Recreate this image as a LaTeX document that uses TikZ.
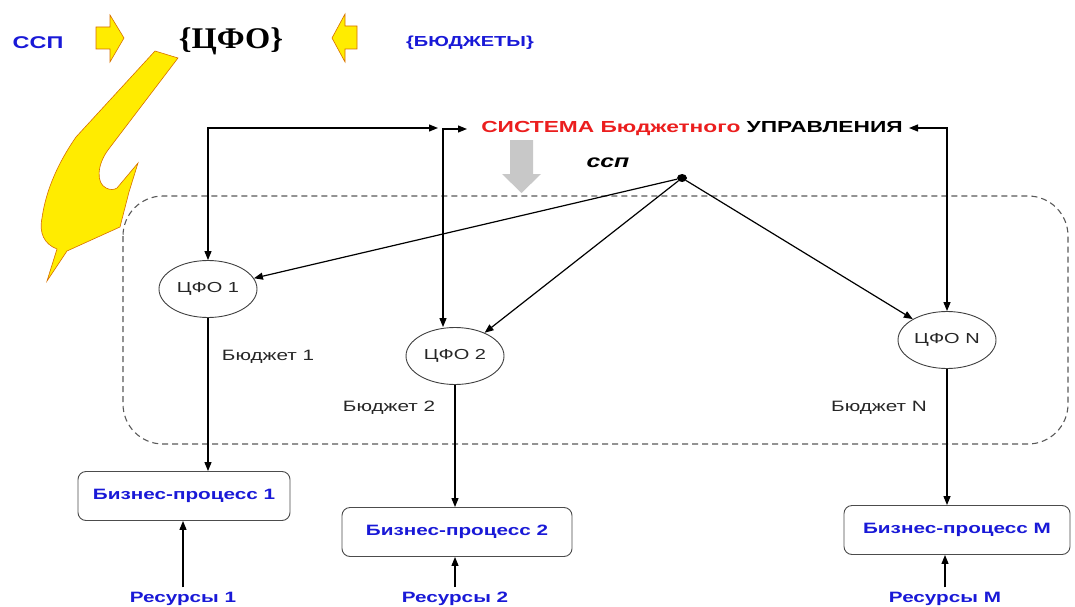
\documentclass[tikz,border=0pt]{standalone}
\usepackage{fontspec}
\setmainfont{Liberation Sans}
\newfontfamily\serifbf{Liberation Serif}
\usetikzlibrary{arrows.meta,shapes.geometric}
\definecolor{tblue}{RGB}{25,25,215}
\definecolor{tred}{RGB}{235,30,30}
\definecolor{yel}{RGB}{255,236,0}
\definecolor{yelo}{RGB}{215,110,0}
\definecolor{garr}{RGB}{200,200,200}
\newcommand{\wide}[1]{\scalebox{1.38}[1]{#1}}
\begin{document}
\begin{tikzpicture}[x=1pt,y=-1pt,
  conn/.style={line width=1.2pt, draw=black},
  tip/.style={-{Triangle[length=9pt,width=7pt]}},
  both/.style={{Triangle[length=9pt,width=7pt]}-{Triangle[length=9pt,width=7pt]}},
  cfo/.style={ellipse, draw=black!75, line width=0.9pt, minimum width=98pt, minimum height=57pt, inner sep=0pt, font=\fontsize{14.5}{14.5}\selectfont, text=black!85},
  bp/.style={rectangle, rounded corners=8pt, draw=black!70, line width=0.9pt, fill=white, minimum height=49pt, inner sep=0pt, font=\fontsize{15}{15}\selectfont\bfseries, text=tblue},
  lbl/.style={font=\fontsize{15}{15}\selectfont, text=black!85, inner sep=0pt},
  res/.style={font=\fontsize{15}{15}\selectfont\bfseries, text=tblue, inner sep=0pt, outer sep=5pt},
  yarrow/.style={fill=yel, draw=yelo, line width=0.6pt},
  zone/.style={draw=black!65, line width=1.1pt, dash pattern=on 6pt off 4pt, rounded corners=40pt}
]
\useasboundingbox (0,0) rectangle (1075,607);

% top row
\node[font=\fontsize{17}{17}\selectfont\bfseries, text=tblue, inner sep=0pt] (ssp) at (38,43) {\wide{ССП}};
\filldraw[yarrow] (96,27) -- (110,27) -- (110,15) -- (124,38) -- (110,62) -- (110,49) -- (96,49) -- cycle;
\node[font=\serifbf\fontsize{30}{30}\selectfont\bfseries, inner sep=0pt] (cfoset) at (231,41) {\scalebox{1.08}[1]{\{ЦФО\}}};
\filldraw[yarrow] (357,26) -- (345,26) -- (345,14) -- (332,38) -- (345,62) -- (345,49) -- (357,49) -- cycle;
\node[font=\fontsize{14.5}{14.5}\selectfont\bfseries, text=tblue, inner sep=0pt] (bud) at (470,43) {\wide{\{БЮДЖЕТЫ\}}};

% big curved yellow arrow
\filldraw[yarrow] (155,51) -- (178,58) -- (108,150)
  .. controls (97,165) and (96,183) .. (106,188)
  .. controls (110,190) and (114,190) .. (117,188)
  -- (138,163) -- (129,192) -- (120,227) -- (67,251) -- (47,281) -- (57,249)
  .. controls (44,244) and (39,233) .. (42,218)
  .. controls (46,190) and (58,163) .. (76,137) -- cycle;

% dashed zone
\draw[zone] (123,196) rectangle (1068,444);

% title and gray arrow
\node[font=\fontsize{16}{16}\selectfont\bfseries, inner sep=0pt] (title) at (692,129) {\scalebox{1.42}[1]{\textcolor{tred}{СИСТЕМА Бюджетного} УПРАВЛЕНИЯ}};
\coordinate (t1) at (438,128);
\coordinate (t2) at (467,129);
\coordinate (t3) at (909,128);
\fill[garr] (510,140) -- (533,140) -- (533,174) -- (541,174) -- (521.5,193) -- (502,174) -- (510,174) -- cycle;
\node[font=\fontsize{18}{18}\selectfont\bfseries\itshape, inner sep=0pt] (sspi) at (608,163) {\wide{ссп}};
\node[ellipse, fill=black, inner sep=0pt, minimum width=10pt, minimum height=8pt] (dot) at (682,178) {};

% CFO nodes
\node[cfo] (c1) at (208,289) {\wide{ЦФО 1}};
\node[cfo] (c2) at (455,356) {\wide{ЦФО 2}};
\node[cfo] (cn) at (947,340) {\wide{ЦФО N}};

\node[lbl] (bj1) at (268,357) {\wide{Бюджет 1}};
\node[lbl] (bj2) at (389,408) {\wide{Бюджет 2}};
\node[lbl] (bjn) at (879,408) {\wide{Бюджет N}};

% business processes
\node[bp, minimum width=212pt] (b1) at (184,496) {\wide{Бизнес-процесс 1}};
\node[bp, minimum width=230pt] (b2) at (457,532) {\wide{Бизнес-процесс 2}};
\node[bp, minimum width=226pt] (bm) at (957,530) {\wide{Бизнес-процесс M}};

\node[res] (r1) at (183,599) {\wide{Ресурсы 1}};
\node[res] (r2) at (455,599) {\wide{Ресурсы 2}};
\node[res] (rm) at (945,599) {\wide{Ресурсы M}};

% connectors
\draw[conn,both] (t1) -| (c1.north);
\draw[conn,both] (t2) -| ([xshift=-12pt]c2.north);
\draw[conn,both] (t3) -| (cn.north);
\draw[conn,tip] (dot) -- (c1);
\draw[conn,tip] (dot) -- (c2);
\draw[conn,tip] (dot) -- (cn);
\draw[conn,tip] (c1.south) -- (c1.south |- b1.north);
\draw[conn,tip] (c2.south) -- (c2.south |- b2.north);
\draw[conn,tip] (cn.south) -- (cn.south |- bm.north);
\draw[conn,tip] (r1.north) -- (r1.north |- b1.south);
\draw[conn,tip] (r2.north) -- (r2.north |- b2.south);
\draw[conn,tip] (rm.north) -- (rm.north |- bm.south);
\end{tikzpicture}
\end{document}
